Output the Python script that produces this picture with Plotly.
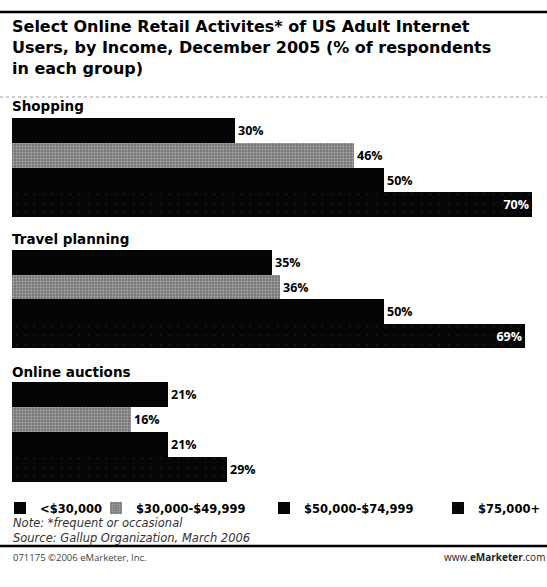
import plotly.graph_objects as go

# Online retail activities by household income (% of respondents in each group)
activities = ["Shopping", "Travel planning", "Online auctions"]
income_groups = ["<$30,000", "$30,000-$49,999", "$50,000-$74,999", "$75,000+"]
shopping = [30, 46, 50, 70]
travel_planning = [35, 36, 50, 69]
online_auctions = [21, 16, 21, 29]
series_by_activity = [shopping, travel_planning, online_auctions]

W, H = 547, 587
FONT = "Open Sans"
WIDE = "DejaVu Sans"

# pixel bands (top, bottom) of each activity block
bands = [(118, 217), (250, 348), (382, 482)]
label_tops = [99, 232, 365]
# left edge (px) of each legend box
legend_x = [0, 96, 264, 438]

bar_colors = ["#050505", "#8a8a8a", "#050505", "#080808"]
patterns = [
    dict(shape=""),
    dict(shape=".", fgcolor="#e8e8e8", bgcolor="#777777", size=3, solidity=0.3),
    dict(shape=""),
    dict(shape=".", fgcolor="#2a2a2a", bgcolor="#060606", size=9, solidity=0.04),
]

fig = go.Figure()

# one x/y axis pair per activity block
for a_idx, values in enumerate(series_by_activity):
    xa = "x" if a_idx == 0 else f"x{a_idx + 1}"
    ya = "y" if a_idx == 0 else f"y{a_idx + 1}"
    for g_idx, grp in enumerate(income_groups):
        v = values[g_idx]
        inside = v >= 60
        fig.add_trace(go.Bar(
            x=[v], y=[g_idx], orientation="h",
            xaxis=xa, yaxis=ya,
            name=f"<b>{grp}</b>", legendgroup=grp,
            legend="legend" if g_idx == 0 else f"legend{g_idx + 1}",
            showlegend=(a_idx == 0),
            marker=dict(color=bar_colors[g_idx], line=dict(width=0),
                        pattern=patterns[g_idx]),
            text=[f"<b>{v}%</b>"],
            textposition="inside" if inside else "outside",
            insidetextanchor="end",
            textfont=dict(family=FONT, size=12.5,
                          color="white" if inside else "black"),
            cliponaxis=False,
            width=1.0,
            hoverinfo="skip",
        ))

layout_axes = {}
for a_idx, (top, bot) in enumerate(bands):
    sfx = "" if a_idx == 0 else str(a_idx + 1)
    layout_axes[f"xaxis{sfx}"] = dict(
        domain=[12 / W, 1], range=[0, 72], visible=False, fixedrange=True,
        anchor=f"y{sfx}",
    )
    layout_axes[f"yaxis{sfx}"] = dict(
        domain=[1 - bot / H, 1 - top / H], range=[3.5, -0.5], visible=False,
        fixedrange=True, anchor=f"x{sfx}",
    )

legend_font = dict(family=WIDE, size=11.5, color="black")
for g_idx, lx in enumerate(legend_x):
    key = "legend" if g_idx == 0 else f"legend{g_idx + 1}"
    layout_axes[key] = dict(
        orientation="h", x=lx / W, xanchor="left",
        y=1 - 508 / H, yanchor="middle", font=legend_font,
        itemwidth=30, bgcolor="rgba(0,0,0,0)",
    )

title_text = ("<b>Select Online Retail Activites* of US Adult Internet<br>"
              "Users, by Income, December 2005 (% of respondents<br>"
              "in each group)</b>")
annotations = [
    dict(text=title_text, x=10 / W, y=1 - 15 / H,
         xref="paper", yref="paper", xanchor="left", yanchor="top",
         align="left", showarrow=False,
         font=dict(family=WIDE, size=16, color="black")),
    dict(text="<i>Note: *frequent or occasional<br>"
              "Source: Gallup Organization, March 2006</i>",
         x=11 / W, y=1 - 514 / H, xref="paper", yref="paper",
         xanchor="left", yanchor="top", align="left", showarrow=False,
         font=dict(family=WIDE, size=11.5, color="#333333")),
    dict(text="071175 ©2006 eMarketer, Inc.",
         x=11 / W, y=1 - 557 / H, xref="paper", yref="paper",
         xanchor="left", yanchor="middle", showarrow=False,
         font=dict(family=FONT, size=9.5, color="#444444")),
    dict(text="www.<b>eMarketer</b>.com",
         x=1, y=1 - 557 / H, xref="paper", yref="paper",
         xanchor="right", yanchor="middle", showarrow=False,
         font=dict(family=FONT, size=10, color="#222222")),
]
for name, top in zip(activities, label_tops):
    annotations.append(dict(
        text=f"<b>{name}</b>", x=10 / W, y=1 - (top + 7) / H,
        xref="paper", yref="paper",
        xanchor="left", yanchor="middle", showarrow=False,
        font=dict(family=WIDE, size=13.5, color="black")))

shapes = [
    dict(type="line", xref="paper", yref="paper", x0=0, x1=1,
         y0=1 - 12 / H, y1=1 - 12 / H, line=dict(color="black", width=2.5)),
    dict(type="line", xref="paper", yref="paper", x0=0, x1=1,
         y0=1 - 97 / H, y1=1 - 97 / H,
         line=dict(color="#9a9a9a", width=1, dash="dot")),
    dict(type="line", xref="paper", yref="paper", x0=0, x1=1,
         y0=1 - 546 / H, y1=1 - 546 / H, line=dict(color="black", width=2.5)),
]

fig.update_layout(
    width=W, height=H,
    margin=dict(l=0, r=0, t=0, b=0),
    paper_bgcolor="white", plot_bgcolor="white",
    barmode="overlay", bargap=0,
    showlegend=True,
    annotations=annotations,
    shapes=shapes,
    **layout_axes,
)

fig.write_html("out.html")
